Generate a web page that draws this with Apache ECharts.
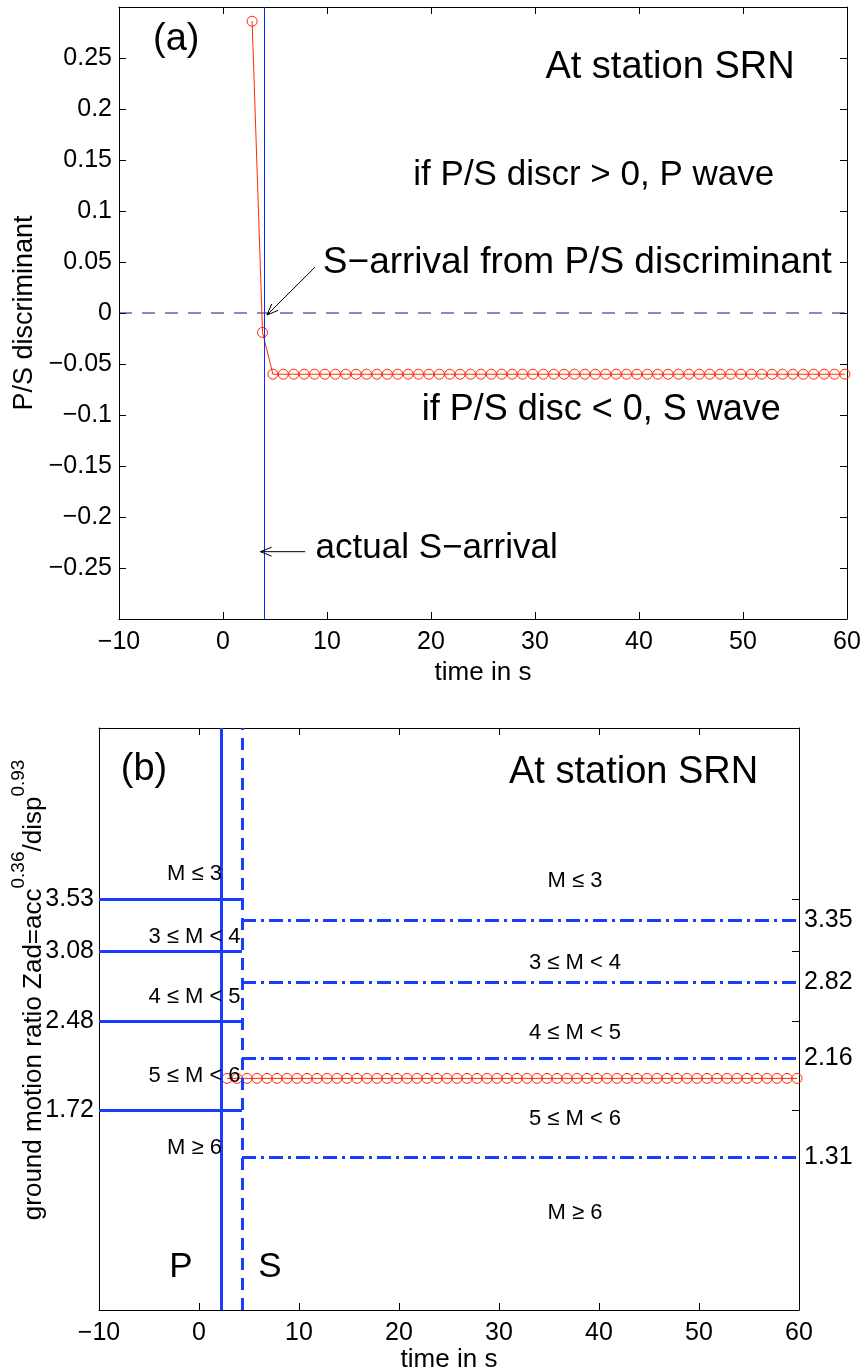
<!DOCTYPE html>
<html><head><meta charset="utf-8">
<script src="https://cdn.jsdelivr.net/npm/echarts@6/dist/echarts.min.js"></script>
<style>html,body{margin:0;padding:0;background:#fff}#c{width:861px;height:1372px}</style>
</head><body><div id="c"></div>
<script>
// ---------- data ----------
const times = [2.8,3.8,4.8,5.8,6.8,7.8,8.8,9.8,10.8,11.8,12.8,13.8,14.8,15.8,16.8,17.8,18.8,19.8,20.8,21.8,22.8,23.8,24.8,25.8,26.8,27.8,28.8,29.8,30.8,31.8,32.8,33.8,34.8,35.8,36.8,37.8,38.8,39.8,40.8,41.8,42.8,43.8,44.8,45.8,46.8,47.8,48.8,49.8,50.8,51.8,52.8,53.8,54.8,55.8,56.8,57.8,58.8,59.8];
const psDiscriminant = [0.286,-0.019,-0.06,-0.06,-0.06,-0.06,-0.06,-0.06,-0.06,-0.06,-0.06,-0.06,-0.06,-0.06,-0.06,-0.06,-0.06,-0.06,-0.06,-0.06,-0.06,-0.06,-0.06,-0.06,-0.06,-0.06,-0.06,-0.06,-0.06,-0.06,-0.06,-0.06,-0.06,-0.06,-0.06,-0.06,-0.06,-0.06,-0.06,-0.06,-0.06,-0.06,-0.06,-0.06,-0.06,-0.06,-0.06,-0.06,-0.06,-0.06,-0.06,-0.06,-0.06,-0.06,-0.06,-0.06,-0.06,-0.06];
const zadRatio = [1.99,1.99,1.99,1.99,1.99,1.99,1.99,1.99,1.99,1.99,1.99,1.99,1.99,1.99,1.99,1.99,1.99,1.99,1.99,1.99,1.99,1.99,1.99,1.99,1.99,1.99,1.99,1.99,1.99,1.99,1.99,1.99,1.99,1.99,1.99,1.99,1.99,1.99,1.99,1.99,1.99,1.99,1.99,1.99,1.99,1.99,1.99,1.99,1.99,1.99,1.99,1.99,1.99,1.99,1.99,1.99,1.99,1.99];
const pThresholds = [3.53, 3.08, 2.48, 1.72];   // P-wave magnitude class boundaries
const sThresholds = [3.35, 2.82, 2.16, 1.31];   // S-wave magnitude class boundaries
const magClasses = ['M \u2264 3', '3 \u2264 M < 4', '4 \u2264 M < 5', '5 \u2264 M < 6', 'M \u2265 6'];
const sArrivalActual = 4.0;   // panel (a)
const pArrival = 2.2;         // panel (b)
const sArrival = 4.3;         // panel (b)
const xRange = [-10, 60];
const psRange = [-0.3, 0.3];
const zadRange = [0, 5];

// ---------- styling ----------
const FONT = 'Liberation Sans, Arial, Helvetica, sans-serif';
const RED = '#ff2a00';
const BLUE = '#1a3cff';
const fmt = v => (v < 0 ? '\u2212' : '') + String(+Math.abs(v).toFixed(2));

const chart = echarts.init(document.getElementById('c'), null, {renderer: 'canvas'});

function xAxisCfg(grid, pos, showLabel, name, gap) {
  return {
    type: 'value', gridIndex: grid, position: pos, min: xRange[0], max: xRange[1], interval: 10,
    axisLine: {show: true, onZero: false, lineStyle: {color: '#000', width: 1}},
    axisTick: {show: true, inside: true, length: 7, lineStyle: {color: '#000', width: 1}},
    axisLabel: {show: showLabel, fontSize: 25, color: '#000', fontFamily: FONT, margin: 11, formatter: fmt},
    splitLine: {show: false},
    name: name || '', nameLocation: 'middle', nameGap: gap || 0,
    nameTextStyle: {fontSize: 26, color: '#000', fontFamily: FONT}
  };
}

const option = {
  animation: false,
  backgroundColor: '#fff',
  grid: [
    {left: 119, top: 7, width: 728, height: 612, containLabel: false, outerBoundsMode: 'none'},
    {left: 99, top: 728, width: 700, height: 582, containLabel: false, outerBoundsMode: 'none'}
  ],
  xAxis: [
    xAxisCfg(0, 'bottom', true, 'time in s', 41),
    xAxisCfg(0, 'top', false),
    xAxisCfg(1, 'bottom', true, 'time in s', 35),
    xAxisCfg(1, 'top', false)
  ],
  yAxis: [
    {type: 'value', gridIndex: 0, position: 'left', min: psRange[0], max: psRange[1], interval: 0.05,
     axisLine: {show: true, onZero: false, lineStyle: {color: '#000'}},
     axisTick: {inside: true, length: 7, lineStyle: {color: '#000'}},
     axisLabel: {fontSize: 25, color: '#000', fontFamily: FONT, margin: 7,
                 formatter: v => Math.abs(v) > 0.29 ? '' : fmt(v)},
     splitLine: {show: false},
     name: 'P/S discriminant', nameLocation: 'middle', nameGap: 74,
     nameTextStyle: {fontSize: 27, color: '#000', fontFamily: FONT}},
    {type: 'value', gridIndex: 0, position: 'right', min: psRange[0], max: psRange[1], interval: 0.05,
     axisLine: {show: true, onZero: false, lineStyle: {color: '#000'}},
     axisTick: {inside: true, length: 7, lineStyle: {color: '#000'}},
     axisLabel: {show: false}, splitLine: {show: false}},
    {type: 'value', gridIndex: 1, position: 'left', min: zadRange[0], max: zadRange[1],
     axisLine: {show: true, onZero: false, lineStyle: {color: '#000'}},
     axisTick: {show: false},
     axisLabel: {fontSize: 25, color: '#000', fontFamily: FONT, margin: 5,
                 customValues: pThresholds, formatter: v => v.toFixed(2)},
     splitLine: {show: false}},
    {type: 'value', gridIndex: 1, position: 'right', min: zadRange[0], max: zadRange[1],
     axisLine: {show: true, onZero: false, lineStyle: {color: '#000'}},
     axisTick: {show: true, inside: true, length: 7, customValues: pThresholds, lineStyle: {color: '#000'}},
     axisLabel: {fontSize: 25, color: '#000', fontFamily: FONT, margin: 5,
                 customValues: sThresholds, formatter: v => v.toFixed(2)},
     splitLine: {show: false}}
  ],
  series: [
    {
      // zero reference line of panel (a)
      type: 'line', xAxisIndex: 0, yAxisIndex: 0, z: 2, silent: true,
      data: [[xRange[0], 0], [xRange[1], 0]], symbol: 'none',
      lineStyle: {color: '#0a1890', width: 1.2, type: [13, 10]}
    },
    {
      type: 'line', xAxisIndex: 0, yAxisIndex: 0, clip: false, z: 4,
      data: times.map((t, i) => [t, psDiscriminant[i]]),
      symbol: 'circle', symbolSize: 10, showAllSymbol: true,
      lineStyle: {color: RED, width: 1},
      itemStyle: {color: 'rgba(0,0,0,0)', borderColor: RED, borderWidth: 1},
      markLine: {
        silent: true, symbol: ['none', 'none'], label: {show: false}, animation: false,
        data: [
          {xAxis: sArrivalActual, lineStyle: {color: '#0a2aff', width: 1, type: 'solid'}}
        ]
      }
    },
    {
      type: 'line', xAxisIndex: 2, yAxisIndex: 2, clip: false, z: 4,
      data: times.map((t, i) => [t, zadRatio[i]]),
      symbol: 'circle', symbolSize: 10, showAllSymbol: true,
      lineStyle: {color: RED, width: 1},
      itemStyle: {color: 'rgba(0,0,0,0)', borderColor: RED, borderWidth: 1},
      markLine: {
        silent: true, symbol: ['none', 'none'], label: {show: false}, animation: false,
        data: [
          {xAxis: pArrival, lineStyle: {color: BLUE, width: 3, type: 'solid'}},
          {xAxis: sArrival, lineStyle: {color: BLUE, width: 3, type: [12, 8]}}
        ].concat(
          pThresholds.map(v => [
            {coord: [xRange[0], v], lineStyle: {color: BLUE, width: 3, type: 'solid'}},
            {coord: [sArrival, v]}
          ]),
          sThresholds.map(v => [
            {coord: [sArrival, v], lineStyle: {color: BLUE, width: 3, type: [14, 5, 3, 5]}},
            {coord: [xRange[1], v]}
          ])
        )
      }
    }
  ]
};
chart.setOption(option);

// ---------- annotations (placed in data coordinates) ----------
const topNotes = [
  {t: '(a)', x: -4.5, y: 0.268, s: 38, a: 'center'},
  {t: 'At station SRN', x: 31, y: 0.2405, s: 38, a: 'left'},
  {t: 'if P/S discr > 0, P wave', x: 18.3, y: 0.135, s: 35, a: 'left'},
  {t: 'S\u2212arrival from P/S discriminant', x: 9.6, y: 0.049, s: 37, a: 'left'},
  {t: 'if P/S disc < 0, S wave', x: 19.1, y: -0.095, s: 36, a: 'left'},
  {t: 'actual S\u2212arrival', x: 8.9, y: -0.231, s: 35, a: 'left'}
];
const topArrows = [
  {from: [8.85, 0.045], to: [4.23, -0.002]},
  {from: [7.9, -0.234], to: [3.6, -0.234]}
];
const leftClassY = [3.745, 3.205, 2.689, 2.007, 1.39];
const rightClassY = [3.69, 2.98, 2.38, 1.64, 0.83];
const bottomNotes = [
  {t: '(b)', x: -5.5, y: 4.64, s: 38, a: 'center'},
  {t: 'At station SRN', x: 31, y: 4.62, s: 38, a: 'left'},
  {t: 'P', x: -1.8, y: 0.363, s: 35, a: 'center'},
  {t: 'S', x: 7.1, y: 0.363, s: 35, a: 'center'}
].concat(
  magClasses.map((m, i) => ({t: m, x: -0.45, y: leftClassY[i], s: 22, a: 'center'})),
  magClasses.map((m, i) => ({t: m, x: 37.6, y: rightClassY[i], s: 22, a: 'center'}))
);

const graphics = [];
function addNotes(notes, grid) {
  notes.forEach(n => {
    const p = chart.convertToPixel({gridIndex: grid}, [n.x, n.y]);
    graphics.push({type: 'text', x: p[0], y: p[1], z: 10,
      style: {text: n.t, fontSize: n.s, fontFamily: FONT, fill: '#000',
              textAlign: n.a, textVerticalAlign: 'middle'}});
  });
}
addNotes(topNotes, 0);
addNotes(bottomNotes, 1);

topArrows.forEach(ar => {
  const a = chart.convertToPixel({gridIndex: 0}, ar.from);
  const b = chart.convertToPixel({gridIndex: 0}, ar.to);
  const dx = a[0] - b[0], dy = a[1] - b[1], L = Math.hypot(dx, dy);
  const ux = dx / L, uy = dy / L, h = 12, ang = 22 * Math.PI / 180;
  const rot = (x, y, t) => [x * Math.cos(t) - y * Math.sin(t), x * Math.sin(t) + y * Math.cos(t)];
  const r1 = rot(ux, uy, ang), r2 = rot(ux, uy, -ang);
  graphics.push({type: 'line', z: 10, shape: {x1: a[0], y1: a[1], x2: b[0], y2: b[1]},
                 style: {stroke: '#000', lineWidth: 1}});
  graphics.push({type: 'polyline', z: 10,
                 shape: {points: [[b[0] + r1[0] * h, b[1] + r1[1] * h], b, [b[0] + r2[0] * h, b[1] + r2[1] * h]]},
                 style: {stroke: '#000', lineWidth: 1, fill: null}});
});

// rotated y-axis title with superscripts for panel (b)
const g1 = chart.convertToPixel({gridIndex: 1}, [xRange[0], 2.75]);
graphics.push({
  type: 'text', x: 28, y: g1[1], rotation: Math.PI / 2, z: 10,
  style: {
    text: '{a|ground motion ratio Zad=acc}{s|0.36}{a|/disp}{s|0.93}',
    fontFamily: FONT, fill: '#000', textAlign: 'center', textVerticalAlign: 'middle',
    rich: {
      a: {fontSize: 26, lineHeight: 38, verticalAlign: 'bottom', fontFamily: FONT, fill: '#000'},
      s: {fontSize: 19, lineHeight: 19, verticalAlign: 'top', fontFamily: FONT, fill: '#000'}
    }
  }
});
chart.setOption({graphic: graphics});
</script></body></html>
